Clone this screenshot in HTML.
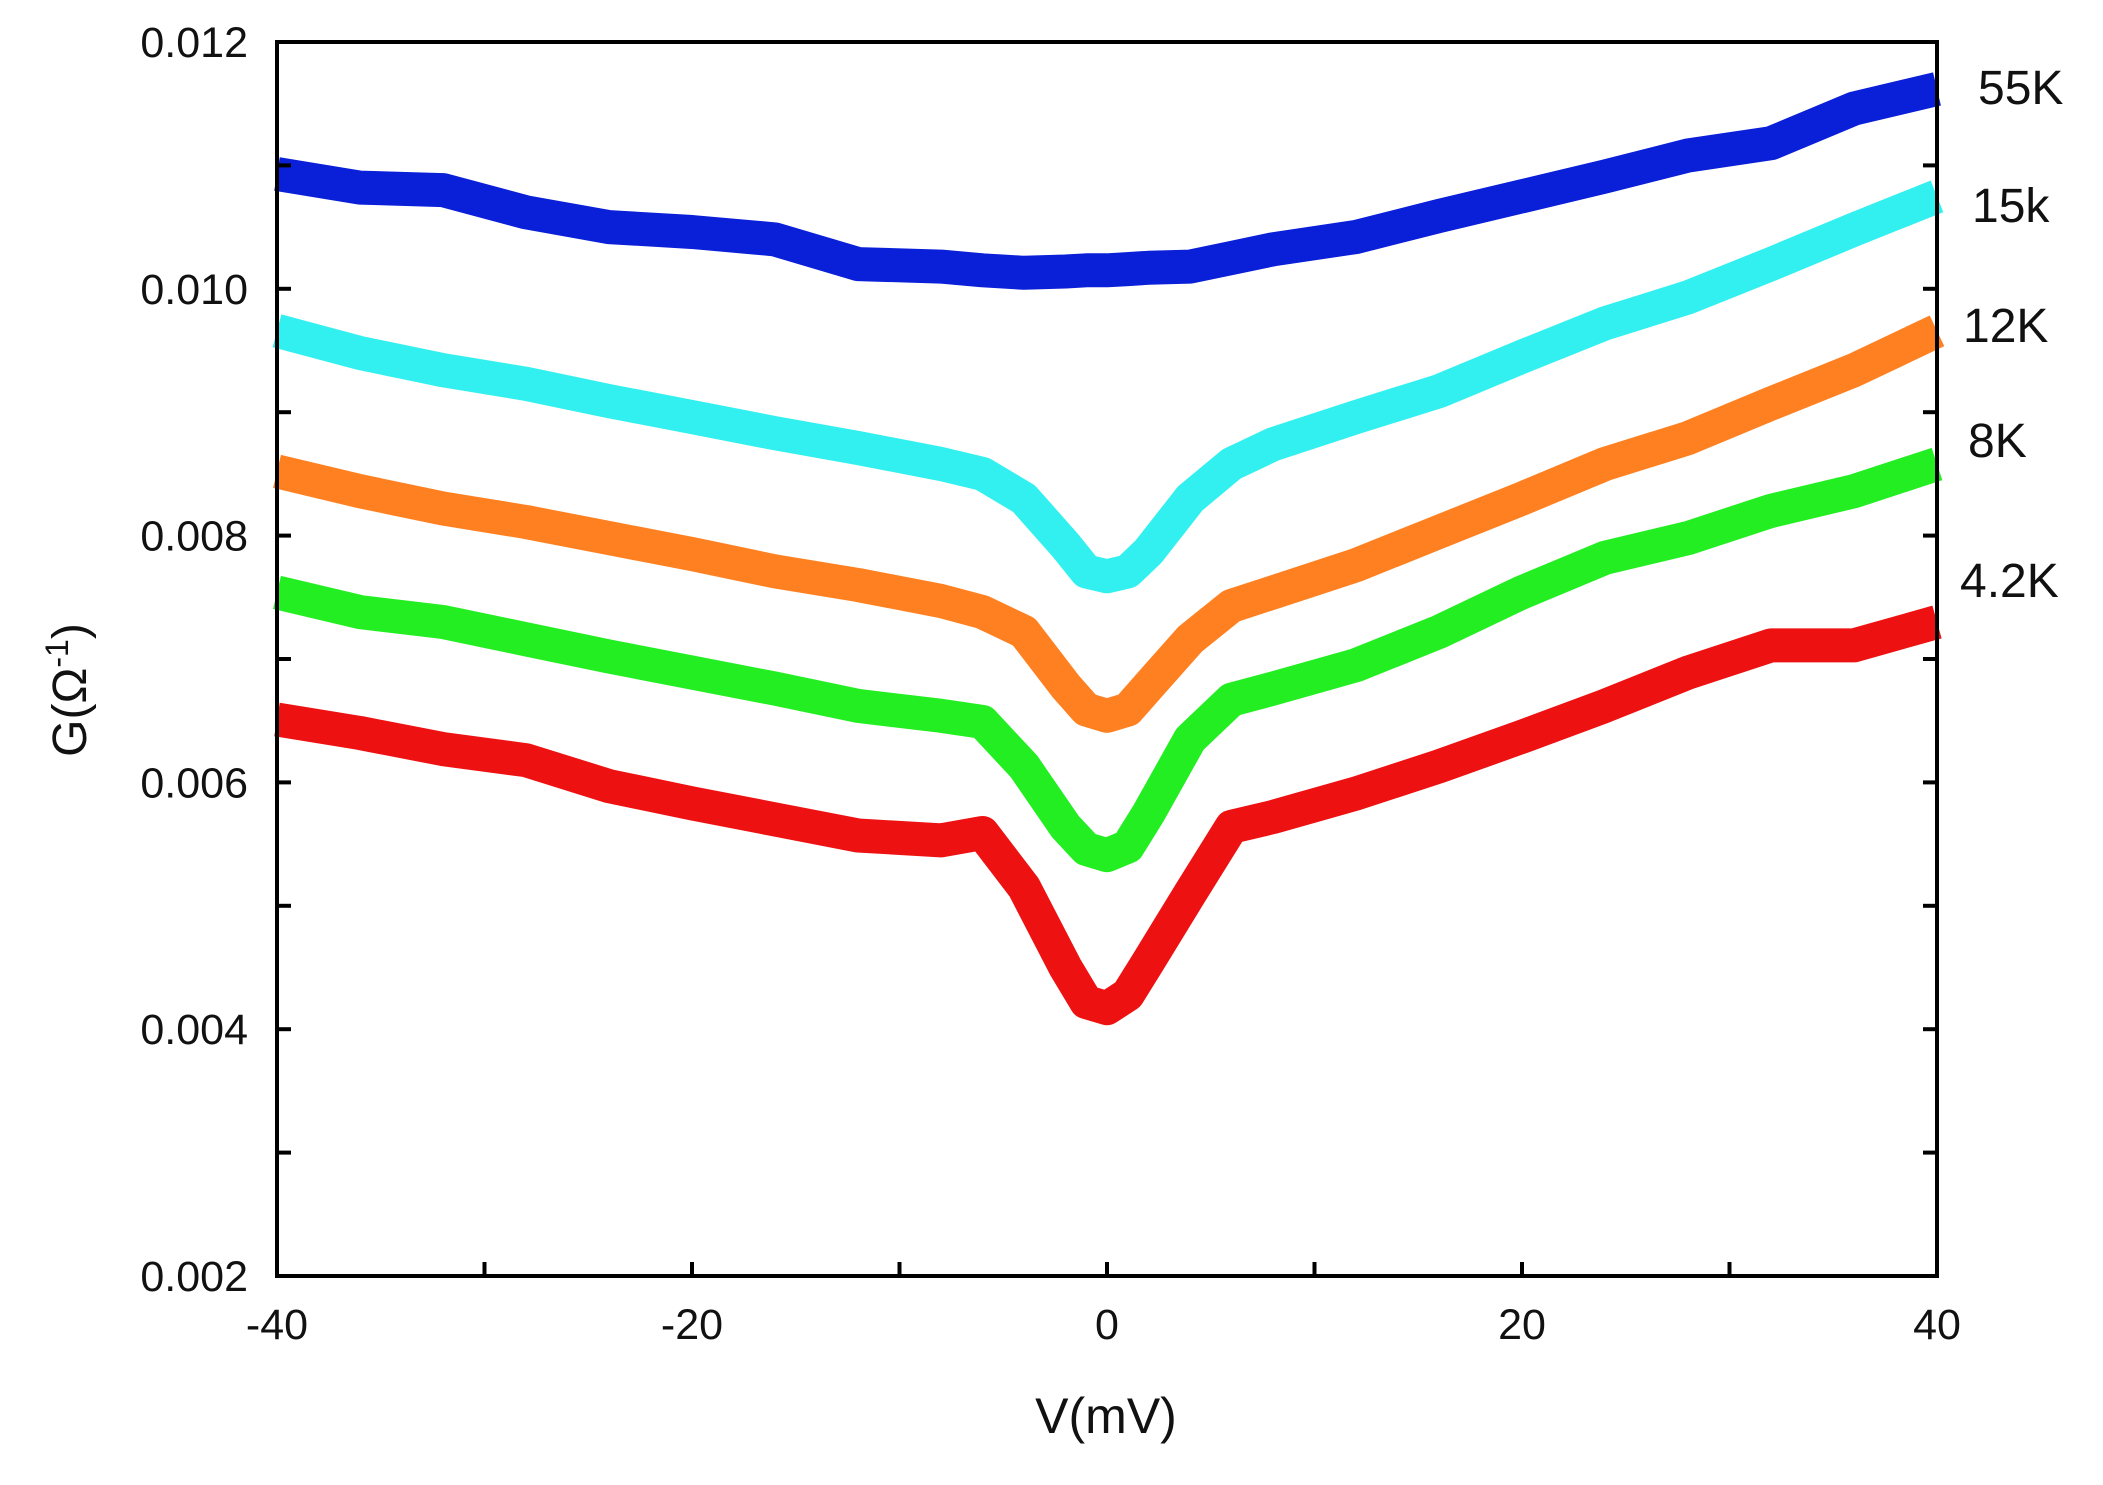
<!DOCTYPE html>
<html><head><meta charset="utf-8"><style>
html,body{margin:0;padding:0;background:#fff;}
svg{display:block;font-family:"Liberation Sans",Arial,sans-serif;}
</style></head><body>
<svg id="chart" width="2103" height="1485" viewBox="0 0 2103 1485">
<g id="series"></g>
<g id="axes"></g>
</svg>
<script>
const voltages = [-40,-36,-32,-28,-24,-20,-16,-12,-8,-6,-4,-2,-1,0,1,2,4,6,8,12,16,20,24,28,32,36,40];
const g55K = [10.93,10.82,10.8,10.62,10.5,10.46,10.4,10.2,10.18,10.15,10.13,10.14,10.15,10.15,10.16,10.17,10.18,10.25,10.32,10.42,10.59,10.75,10.91,11.08,11.18,11.46,11.62];
const g15K = [9.66,9.48,9.34,9.23,9.09,8.96,8.83,8.71,8.58,8.5,8.3,7.92,7.71,7.67,7.71,7.87,8.3,8.58,8.74,8.96,9.17,9.45,9.72,9.93,10.2,10.48,10.75];
const g12K = [8.52,8.36,8.22,8.11,7.98,7.85,7.71,7.6,7.47,7.38,7.22,6.78,6.59,6.54,6.59,6.78,7.16,7.43,7.54,7.76,8.03,8.3,8.58,8.79,9.07,9.34,9.66];
const g8K = [7.54,7.38,7.3,7.16,7.02,6.89,6.76,6.62,6.54,6.49,6.13,5.64,5.46,5.41,5.48,5.75,6.35,6.67,6.76,6.95,7.22,7.54,7.82,7.98,8.2,8.36,8.58];
const g4K = [6.51,6.4,6.27,6.18,5.97,5.83,5.7,5.57,5.53,5.59,5.15,4.5,4.22,4.17,4.28,4.55,5.1,5.64,5.72,5.91,6.13,6.37,6.62,6.89,7.11,7.11,7.3];
const seriesNames = ["55K","15k","12K","8K","4.2K"];
const seriesColors = ["#0a1fd8","#33f0f0","#ff8020","#22ee22","#ee1111"];
const xTicks = [-40,-20,0,20,40];
const yTicks = [0.002,0.004,0.006,0.008,0.010,0.012];

const L=277,R=1937,T=42,B=1276;
const xs = v => L + (v+40)/80*(R-L);
const ys = g => B - (g-2)/10*(B-T);
const NS="http://www.w3.org/2000/svg";
function mk(tag,attrs,parent){const e=document.createElementNS(NS,tag);for(const k in attrs)e.setAttribute(k,attrs[k]);parent.appendChild(e);return e;}
const sg=document.getElementById('series'), ag=document.getElementById('axes');
const allSeries=[g55K,g15K,g12K,g8K,g4K];
const labelY=[87,205,325,440,580], labelX=[1978,1972,1963,1968,1960];
allSeries.forEach((arr,i)=>{
  const d=arr.map((g,j)=>(j?'L':'M')+xs(voltages[j]).toFixed(1)+','+ys(g).toFixed(1)).join(' ');
  const p=mk('path',{d:d,fill:'none',stroke:seriesColors[i],'stroke-width':34,'stroke-linejoin':'round','stroke-linecap':'butt'},sg);
  
  
  const t=mk('text',{x:labelX[i],y:labelY[i]+17,'font-size':48,fill:'#111'},ag);
  t.textContent=seriesNames[i];
  
  
});
const frame=mk('rect',{x:L,y:T,width:R-L,height:B-T,fill:'none',stroke:'#000','stroke-width':4},ag);


for(let g=2;g<=12;g++){
  const y=ys(g);
  mk('line',{x1:L,x2:L+14,y1:y,y2:y,stroke:'#000','stroke-width':4},ag);
  mk('line',{x1:R,x2:R-14,y1:y,y2:y,stroke:'#000','stroke-width':4},ag);
}
yTicks.forEach(v=>{
  const t=mk('text',{x:248,y:ys(v*1000)+15,'font-size':43,'text-anchor':'end',fill:'#111'},ag);
  t.textContent=v.toFixed(3);
  
  
});
for(let v=-40;v<=40;v+=10){
  const x=xs(v);
  mk('line',{x1:x,x2:x,y1:B,y2:B-14,stroke:'#000','stroke-width':4},ag);
}
xTicks.forEach(v=>{
  const t=mk('text',{x:xs(v),y:1339,'font-size':43,'text-anchor':'middle',fill:'#111'},ag);
  t.textContent=v;
  
  
});
const xt=mk('text',{x:1106,y:1433,'font-size':50,'text-anchor':'middle',fill:'#111'},ag);
xt.textContent='V(mV)';


const yt=mk('text',{x:0,y:0,'font-size':48,'text-anchor':'middle',fill:'#111',transform:'translate(86,690) rotate(-90)'},ag);
yt.innerHTML='G(Ω<tspan dy="-18" font-size="32">-1</tspan><tspan dy="18">)</tspan>';


</script>
</body></html>
